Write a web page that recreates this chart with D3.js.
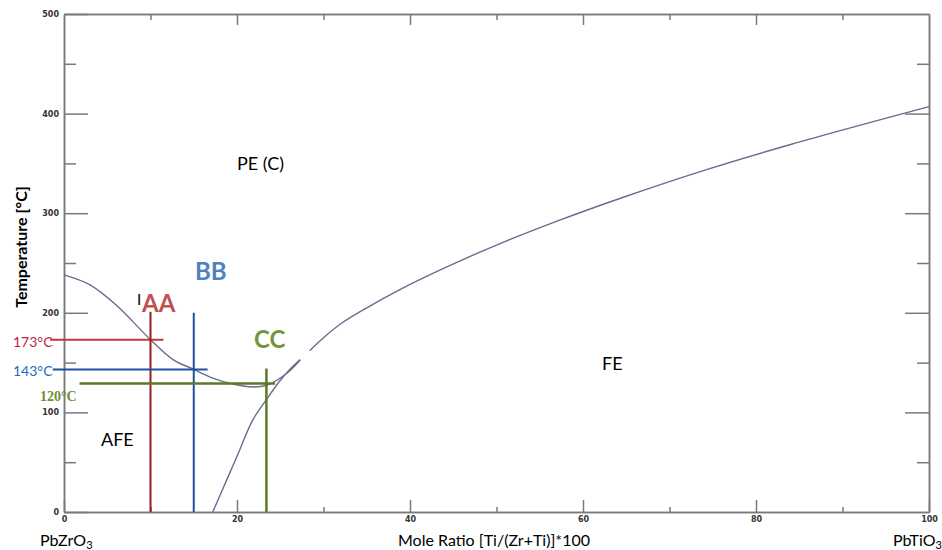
<!DOCTYPE html>
<html>
<head>
<meta charset="utf-8">
<script src="https://cdn.jsdelivr.net/npm/d3@7"></script>
<style>
  body { margin: 0; background: #fff; }
  svg { display: block; }
</style>
</head>
<body>
<script>
// phase boundaries, [mole ratio, temperature]
var feLow = [[17.2, 0], [18.8, 32], [20.3, 62], [21.8, 92], [23.5, 114], [24.9, 131], [26.1, 143], [27.3, 153]];
var feHigh = [[28.4, 162], [30, 175], [32, 189], [35, 205], [39, 224], [44, 245], [50, 268], [57, 292], [65, 317], [74, 343], [84, 369], [100, 407]];
var afe = [[0, 238], [3, 228], [6, 208], [10, 173], [12.6, 153], [14.9, 143.6], [17.2, 134.5], [19.5, 128.5], [21.9, 125.5], [23.5, 127.5], [25.8, 139.6], [27.3, 152.6]];

// marker lines
var markNames = ["AA", "BB", "CC"];
var markX = [10, 15, 23.4];
var markTop = [201, 200, 144];
var markTemp = [173, 143, 129];
var markFrom = [-1.6, -1.3, 1.8];
var markTo = [11.5, 16.6, 24.4];
var tempLabels = ["173°C", "143°C", "120°C"];

var yMajor = [0, 100, 200, 300, 400, 500];
var yMinor = [50, 150, 250, 350, 450];
var xMajor = [0, 20, 40, 60, 80, 100];
var xMinor = [10, 30, 50, 70, 90];

var width = 942, height = 550;

var x = d3.scaleLinear().domain([0, 100]).range([64, 929]);
var y = d3.scaleLinear().domain([0, 500]).range([512, 14]);

var svg = d3.select("body").append("svg")
	.attr("width", width)
	.attr("height", height);

// axes
function styleAxis(g) {
	g.selectAll("path, line").attr("stroke", "#7a7a7a").attr("stroke-width", 1.5);
	g.selectAll("text").attr("fill", "#333").style("font-family", "DejaVu Sans").style("font-size", "8px").style("font-weight", "bold");
}

svg.append("g").attr("transform", "translate(64,0)")
	.call(d3.axisLeft(y).tickValues(yMajor).tickSize(-24).tickSizeOuter(0).tickPadding(5))
	.call(styleAxis);
svg.append("g").attr("transform", "translate(64,0)")
	.call(d3.axisLeft(y).tickValues(yMinor).tickSize(-12).tickSizeOuter(0).tickFormat(""))
	.call(styleAxis);
svg.append("g").attr("transform", "translate(929,0)")
	.call(d3.axisRight(y).tickValues(yMajor.slice(1, 5)).tickSize(-24).tickSizeOuter(0).tickFormat(""))
	.call(styleAxis);
svg.append("g").attr("transform", "translate(929,0)")
	.call(d3.axisRight(y).tickValues(yMinor).tickSize(-12).tickSizeOuter(0).tickFormat(""))
	.call(styleAxis);
svg.append("g").attr("transform", "translate(0,512)")
	.call(d3.axisBottom(x).tickValues(xMajor).tickSize(-12).tickSizeOuter(0).tickPadding(4))
	.call(styleAxis);
svg.append("g").attr("transform", "translate(0,512)")
	.call(d3.axisBottom(x).tickValues(xMinor).tickSize(-5).tickSizeOuter(0).tickFormat(""))
	.call(styleAxis);
svg.append("g").attr("transform", "translate(0,14)")
	.call(d3.axisTop(x).tickValues(xMajor.slice(1, 5)).tickSize(-11).tickSizeOuter(0).tickFormat(""))
	.call(styleAxis);
svg.append("g").attr("transform", "translate(0,14)")
	.call(d3.axisTop(x).tickValues(xMinor).tickSize(-6).tickSizeOuter(0).tickFormat(""))
	.call(styleAxis);

// boundaries
var line = d3.line()
	.x(function(d) { return x(d[0]) })
	.y(function(d) { return y(d[1]) })
	.curve(d3.curveCatmullRom);

[feLow, feHigh, afe].forEach(function(pts) {
	svg.append("path")
		.attr("d", line(pts))
		.attr("fill", "none")
		.attr("stroke", "#6c6a8e")
		.attr("stroke-width", 1.4);
});

// marker lines
var vColor = ["#9b1b1f", "#1f4e9c", "#5b7a27"];
var hColor = ["#c3373a", "#2150a0", "#5b7a27"];
var hWidth = [2, 2, 2.5];

markNames.forEach(function(n, i) {
	svg.append("line")
		.attr("x1", x(markFrom[i])).attr("x2", x(markTo[i]))
		.attr("y1", y(markTemp[i])).attr("y2", y(markTemp[i]))
		.attr("stroke", hColor[i]).attr("stroke-width", hWidth[i]);
	svg.append("line")
		.attr("x1", x(markX[i])).attr("x2", x(markX[i]))
		.attr("y1", y(0)).attr("y2", y(markTop[i]))
		.attr("stroke", vColor[i]).attr("stroke-width", hWidth[i]);
});

// labels
function label(txt, px, py, opts) {
	var t = svg.append("text")
		.attr("x", px).attr("y", py)
		.text(txt)
		.style("font-family", opts.family || "Lato")
		.style("font-size", opts.size + "px")
		.style("font-weight", opts.weight || "normal")
		.attr("fill", opts.fill || "#000")
		.attr("text-anchor", opts.anchor || "start");
	return t;
}

label("AA", 142, 312, {size: 24, weight: "bold", fill: "#c0504d"});
label("BB", 195, 280, {size: 24, weight: "bold", fill: "#4f81bd"});
label("CC", 254, 348, {size: 24, weight: "bold", fill: "#77933c"});
label("I", 137, 305, {size: 15, fill: "#000"});

label(tempLabels[0], 13, 347, {size: 14, fill: "#b51f48"});
label(tempLabels[1], 13, 376, {size: 14, fill: "#1c6fb8"});
label(tempLabels[2], 40, 401, {size: 14, fill: "#6f8f33", family: "Liberation Serif", weight: "bold"});

label("PE (C)", 237, 170, {size: 18});
label("FE", 602, 370, {size: 18});
label("AFE", 101, 446, {size: 18});

svg.append("text")
	.attr("transform", "translate(27,247) rotate(-90)")
	.attr("text-anchor", "middle")
	.style("font-family", "Lato")
	.style("font-size", "16px")
	.style("font-weight", "bold")
	.text("Temperature [°C]");

label("Mole Ratio [Ti/(Zr+Ti)]*100", 494, 546, {size: 16, anchor: "middle"});

var pz = label("PbZrO", 40, 546, {size: 16});
pz.append("tspan").attr("dy", 3).style("font-size", "11px").text("3");
var pt = label("PbTiO", 893, 546, {size: 16});
pt.append("tspan").attr("dy", 3).style("font-size", "11px").text("3");
</script>
</body>
</html>
